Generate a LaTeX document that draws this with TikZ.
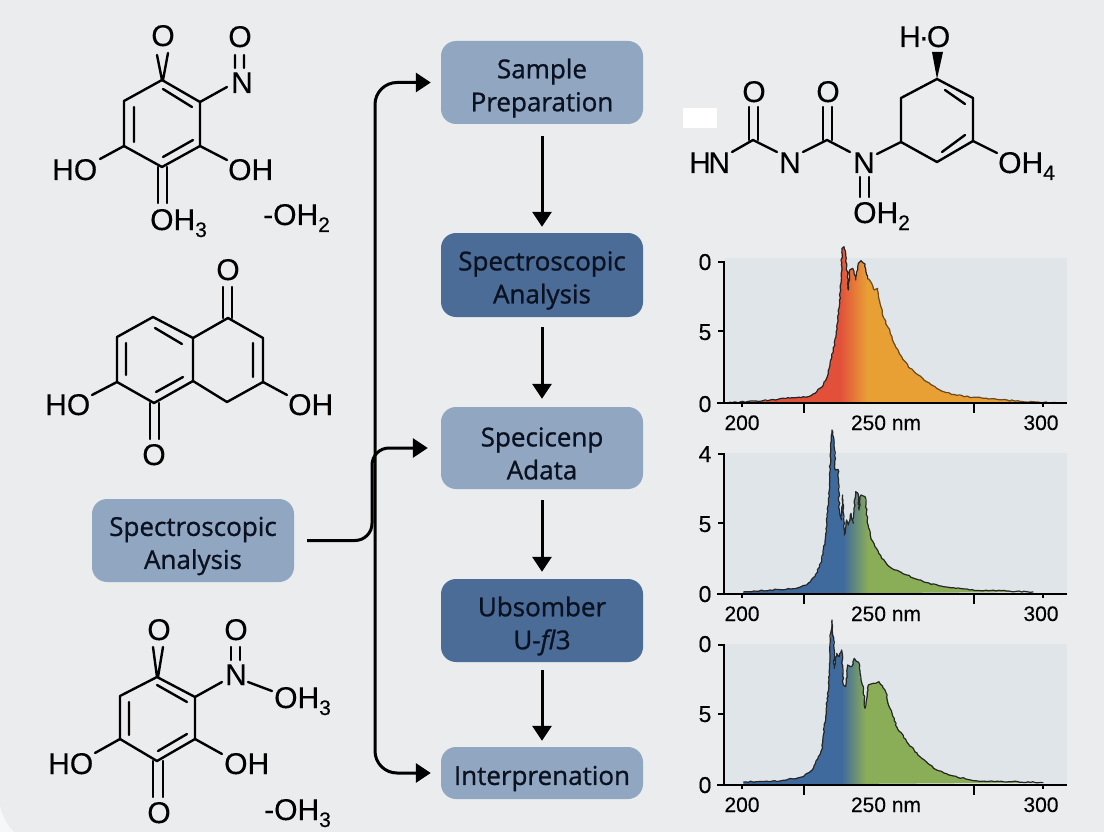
\documentclass[tikz,border=0pt]{standalone}
\usepackage{fontspec}
\setmainfont{Liberation Sans}[FakeBold=0.25]
\newfontfamily\boxfont{Open Sans}[FakeBold=1.0]
\usetikzlibrary{arrows.meta,decorations.pathmorphing}
\definecolor{bgc}{HTML}{EAECEE}
\definecolor{cornerc}{HTML}{F6F7F8}
\definecolor{lightbox}{HTML}{91A7C1}
\definecolor{darkbox}{HTML}{4A6C96}
\definecolor{boxtext}{HTML}{0A1120}
\definecolor{panel}{HTML}{E0E5EA}
\definecolor{redc}{HTML}{E2503A}
\definecolor{orangec}{HTML}{E8A035}
\definecolor{brownc}{HTML}{6A4A22}
\definecolor{bluec}{HTML}{3F6A9D}
\definecolor{greenc}{HTML}{8AAD58}
\newcommand{\sbs}[1]{\raisebox{-7pt}{\fontsize{21}{21}\selectfont #1}}
\tikzset{
  flowbox/.style={rounded corners=15pt,inner sep=0pt,minimum width=202pt},
  lightstep/.style={flowbox,fill=lightbox},
  darkstep/.style={flowbox,fill=darkbox},
  boxtxt/.style={inner sep=0pt,yshift=-5.5pt,text=boxtext,align=center,font=\boxfont\fontsize{26}{33}\selectfont},
  conn/.style={line width=3pt,-{Triangle[length=15pt,width=19pt]}},
  bond/.style={line width=2.4pt,line cap=round,line join=round,black},
  chem/.style={inner sep=0pt,anchor=base west,font=\fontsize{30}{30}\selectfont,text=black},
  chemc/.style={inner sep=0pt,anchor=base,font=\fontsize{30}{30}\selectfont,text=black},
  axisline/.style={line width=2.2pt,black},
  axlabel/.style={inner sep=0pt,anchor=base,font=\fontsize{21}{21}\selectfont,text=black},
  ylabel/.style={inner sep=0pt,anchor=base,font=\fontsize{23}{23}\selectfont,text=black},
  edge/.style={line width=1.2pt,line join=round,black!85,decorate,decoration={random steps,segment length=2.6pt,amplitude=0.7pt}},
}
% spectra outlines, in zoomed coordinates
\newcommand{\curveA}{(135,490) -- (180,486) -- (240,484) -- (270,480) -- (340,473) -- (385,470) -- (410,455) -- (430,435) -- (445,400) -- (450,375) -- (460,330) -- (468,290) -- (477,205) -- (483,130) -- (486,25) -- (492,20) -- (497,40) -- (500,80) -- (505,150) -- (509,90) -- (518,85) -- (527,120) -- (535,70) -- (543,62) -- (555,72) -- (563,115) -- (575,130) -- (583,150) -- (593,145) -- (600,190) -- (612,235) -- (630,275) -- (645,315) -- (665,350) -- (690,385) -- (715,405) -- (740,425) -- (770,445) -- (800,458) -- (830,466) -- (880,472) -- (950,478) -- (1020,484) -- (1130,488)}
\newcommand{\curveB}{(190,486) -- (270,480) -- (340,476) -- (380,465) -- (405,440) -- (425,395) -- (435,335) -- (442,260) -- (448,180) -- (452,40) -- (456,0) -- (462,30) -- (466,120) -- (474,118) -- (478,240) -- (484,270) -- (488,195) -- (493,315) -- (500,270) -- (505,285) -- (513,250) -- (520,280) -- (527,185) -- (534,190) -- (537,240) -- (543,195) -- (555,200) -- (562,270) -- (572,320) -- (585,350) -- (605,385) -- (635,415) -- (680,435) -- (730,455) -- (790,470) -- (870,480) -- (1010,484) -- (1060,486)}
\newcommand{\curveC}{(190,486) -- (300,483) -- (370,470) -- (400,445) -- (425,390) -- (437,290) -- (447,180) -- (452,40) -- (456,0) -- (461,60) -- (463,145) -- (470,100) -- (478,110) -- (485,90) -- (490,195) -- (497,200) -- (503,135) -- (515,140) -- (523,115) -- (537,130) -- (543,180) -- (550,200) -- (555,265) -- (565,195) -- (580,190) -- (597,185) -- (615,210) -- (630,265) -- (650,320) -- (680,365) -- (720,410) -- (770,450) -- (820,468) -- (880,482) -- (950,484) -- (1090,488)}
\begin{document}
\begin{tikzpicture}[x=1pt,y=-1pt]
\useasboundingbox (0,0) rectangle (1104,832);
\fill[bgc] (0,0) rectangle (1104,832);
\fill[cornerc] (0,806) .. controls (3,818) and (8,826) .. (14,832) -- (0,832) -- cycle;

% --- flow boxes
\node[lightstep,minimum height=83pt,label={[boxtxt]center:Sample\\Preparation}] (sample) at (542,82.5) {};
\node[darkstep,minimum height=84pt,label={[boxtxt]center:Spectroscopic\\Analysis}] (specb) at (542,275) {};
\node[lightstep,minimum height=82pt,label={[boxtxt]center:Specicenp\\Adata}] (adata) at (542,448) {};
\node[darkstep,minimum height=83pt,label={[boxtxt]center:Ubsomber\\U-\textit{fl}3}] (ubsomber) at (542,620.5) {};
\node[lightstep,minimum height=52pt,label={[boxtxt]center:Interprenation}] (interp) at (542,773) {};
\node[lightstep,minimum height=83pt,label={[boxtxt]center:Spectroscopic\\Analysis}] (source) at (193,540.5) {};

\coordinate (trunk) at (375,540);
\coordinate (bend) at (372,490);
\draw[conn,rounded corners=22pt,shorten >=10pt] (trunk) |- (sample.west);
\draw[conn,rounded corners=22pt,shorten >=10pt] (trunk) |- (interp.west);
\draw[conn,rounded corners=17pt,shorten >=13pt,shorten <=13pt] (source.east) -| (bend) |- (adata.west);
\draw[conn,shorten >=6pt,shorten <=12pt] (sample.south) -- (specb.north);
\draw[conn,shorten >=8pt,shorten <=10pt] (specb.south) -- (adata.north);
\draw[conn,shorten >=7pt,shorten <=11pt] (adata.south) -- (ubsomber.north);
\draw[conn,shorten >=6pt,shorten <=8pt] (ubsomber.south) -- (interp.north);

% --- molecule 1
\draw[bond] (162,80) -- (200,102) -- (200,146) -- (162,167) -- (124,146) -- (124,101) -- cycle;
\draw[bond] (163,89) -- (192,107) (134,107) -- (134,142) (163,157) -- (193,140);
\draw[bond] (157,55) -- (162,80) (168,53) -- (163,80);
\draw[bond] (235,55) -- (235,68) (244,55) -- (244,68) (200,102) -- (227,87);
\draw[bond] (124,146) -- (100,159) (200,146) -- (227,160);
\draw[bond] (158,167) -- (158,203) (167,167) -- (167,203);
\node[chemc] (m1o) at (163,46) {O};
\node[chemc] (m1o2) at (240,47) {O};
\node[chem] (m1n) at (231,93) {N};
\node[chem] (m1ho) at (52,180) {HO};
\node[chem] (m1oh) at (228,180) {OH};
\node[chem] (m1oh3) at (150,230) {OH\sbs{3}};
\node[chem] (m1w) at (263,225) {-OH\sbs{2}};

% --- molecule 2
\draw[bond] (193,338) -- (153,317) -- (117,337) -- (117,382) -- (154,403) -- (193,381) -- cycle;
\draw[bond] (193,338) -- (228,318) -- (263,338) -- (263,382) -- (227,402) -- (193,381);
\draw[bond] (155,328) -- (182,344) (126,343) -- (126,375) (156,392) -- (183,377) (253,343) -- (253,377);
\draw[bond] (223,287) -- (223,318) (232,287) -- (232,318);
\draw[bond] (150,403) -- (150,439) (159,403) -- (159,439);
\draw[bond] (117,382) -- (92,395) (263,382) -- (287,395);
\node[chemc] (m2o) at (228,280) {O};
\node[chemc] (m2o2) at (154,465) {O};
\node[chem] (m2ho) at (45,415) {HO};
\node[chem] (m2oh) at (288,415) {OH};

% --- molecule 3
\draw[bond] (157,677) -- (195,697) -- (195,739) -- (157,761) -- (120,739) -- (120,696) -- cycle;
\draw[bond] (157,685) -- (187,702) (129,702) -- (129,735) (158,751) -- (187,734);
\draw[bond] (153,647) -- (157,677) (163,647) -- (158,677);
\draw[bond] (231,647) -- (231,660) (240,647) -- (240,660);
\draw[bond] (195,697) -- (222,682) (248,682) -- (272,691);
\draw[bond] (120,739) -- (95,753) (195,739) -- (222,754);
\draw[bond] (153,761) -- (153,797) (163,761) -- (163,797);
\node[chemc] (m3o) at (159,640) {O};
\node[chemc] (m3o2) at (236,640) {O};
\node[chem] (m3n) at (225,685) {N};
\node[chem] (m3oh3) at (274,708) {OH\sbs{3}};
\node[chem] (m3ho) at (48,774) {HO};
\node[chem] (m3oh) at (224,774) {OH};
\node[chemc] (m3o3) at (159,823) {O};
\node[chem] (m3w) at (264,820) {-OH\sbs{3}};

% --- molecule 4
\fill[white] (683,108) rectangle (717,128);
\draw[bond] (732,152) -- (753,140) -- (777,152) (803,152) -- (827,140) -- (850,152) (877,154) -- (901,142);
\draw[bond] (749,107) -- (749,140) (758,107) -- (758,140) (823,107) -- (823,140) (832,107) -- (832,140);
\draw[bond] (901,142) -- (901,98) -- (937,79) -- (973,98) -- (973,141) -- (937,162) -- cycle;
\draw[bond] (945,90) -- (965,104) (942,152) -- (965,135);
\fill[black] (937,79) -- (932,52) -- (943,52) -- cycle;
\draw[bond] (973,141) -- (997,153);
\draw[bond] (860,177) -- (860,197) (869,177) -- (869,197);
\node[chemc] (m4o) at (754,102) {O};
\node[chemc] (m4o2) at (828,102) {O};
\node[chem] (m4hn) at (689,173) {H\kern-2.5pt N};
\node[chemc] (m4n) at (790,173) {N};
\node[chemc] (m4n2) at (864,173) {N};
\node[chem] (m4ho) at (899,47) {H\kern-2pt·\kern-2pt O};
\node[chem] (m4oh4) at (998,173) {OH\sbs{4}};
\node[chem] (m4oh2) at (853,223) {OH\sbs{2}};

% --- spectrum 1
\fill[panel] (725,258) rectangle (1067,403);
\begin{scope}[shift={(680,240)},x=0.3333pt,y=-0.3333pt]
  \begin{scope}
    \clip \curveA -- cycle;
    \fill[redc] (100,0) rectangle (480,500);
    \shade[left color=redc,right color=orangec] (480,0) rectangle (562,500);
    \fill[orangec] (562,0) rectangle (1160,500);
  \end{scope}
  \begin{scope}
    \clip (100,0) rectangle (565,500);
    \draw[edge] \curveA;
  \end{scope}
  \begin{scope}
    \clip (565,0) rectangle (1160,500);
    \draw[edge,brownc] \curveA;
  \end{scope}
\end{scope}
\draw[axisline] (718,262) -- (724,262) -- (724,403) (718,331) -- (724,331);
\draw[axisline] (717,403) -- (1067,403);
\draw[axisline] (742,403) -- (742,407) (804,403) -- (804,413) (974,403) -- (974,413) (1043,403) -- (1043,407);
\node[ylabel] (a1) at (705,270) {0};
\node[ylabel] (a2) at (705,340) {5};
\node[ylabel] (a3) at (705,412) {0};
\node[axlabel] (a4) at (742,430) {200};
\node[axlabel] (a5) at (886,430) {250 nm};
\node[axlabel] (a6) at (1041,430) {300};

% --- spectrum 2
\fill[panel] (725,453) rectangle (1067,593);
\begin{scope}[shift={(680,430)},x=0.3333pt,y=-0.3333pt]
  \begin{scope}
    \clip \curveB -- (190,492) -- cycle;
    \fill[bluec] (100,0) rectangle (490,500);
    \shade[left color=bluec,right color=greenc] (490,0) rectangle (565,500);
    \fill[greenc] (565,0) rectangle (1160,500);
  \end{scope}
  \draw[edge] \curveB;
\end{scope}
\draw[axisline] (718,454) -- (724,454) -- (724,594) (718,523) -- (724,523);
\draw[axisline] (717,594) -- (1067,594);
\draw[axisline] (742,594) -- (742,598) (804,594) -- (804,604) (974,594) -- (974,604) (1043,594) -- (1043,598);
\node[ylabel] (b1) at (705,462) {4};
\node[ylabel] (b2) at (705,532) {5};
\node[ylabel] (b3) at (705,602) {0};
\node[axlabel] (b4) at (742,621) {200};
\node[axlabel] (b5) at (886,621) {250 nm};
\node[axlabel] (b6) at (1041,621) {300};

% --- spectrum 3
\fill[panel] (725,644) rectangle (1067,784);
\begin{scope}[shift={(680,620)},x=0.3333pt,y=-0.3333pt]
  \begin{scope}
    \clip \curveC -- (190,494) -- cycle;
    \fill[bluec] (100,0) rectangle (485,500);
    \shade[left color=bluec,right color=greenc] (485,0) rectangle (557,500);
    \fill[greenc] (557,0) rectangle (1160,500);
  \end{scope}
  \draw[edge] \curveC;
\end{scope}
\draw[axisline] (718,645) -- (724,645) -- (724,785) (718,714) -- (724,714);
\draw[axisline] (717,785) -- (1067,785);
\draw[axisline] (742,785) -- (742,789) (804,785) -- (804,795) (974,785) -- (974,795) (1043,785) -- (1043,789);
\node[ylabel] (c1) at (705,652) {0};
\node[ylabel] (c2) at (705,722) {5};
\node[ylabel] (c3) at (705,793) {0};
\node[axlabel] (c4) at (742,812) {200};
\node[axlabel] (c5) at (886,812) {250 nm};
\node[axlabel] (c6) at (1041,812) {300};
\end{tikzpicture}
\end{document}
